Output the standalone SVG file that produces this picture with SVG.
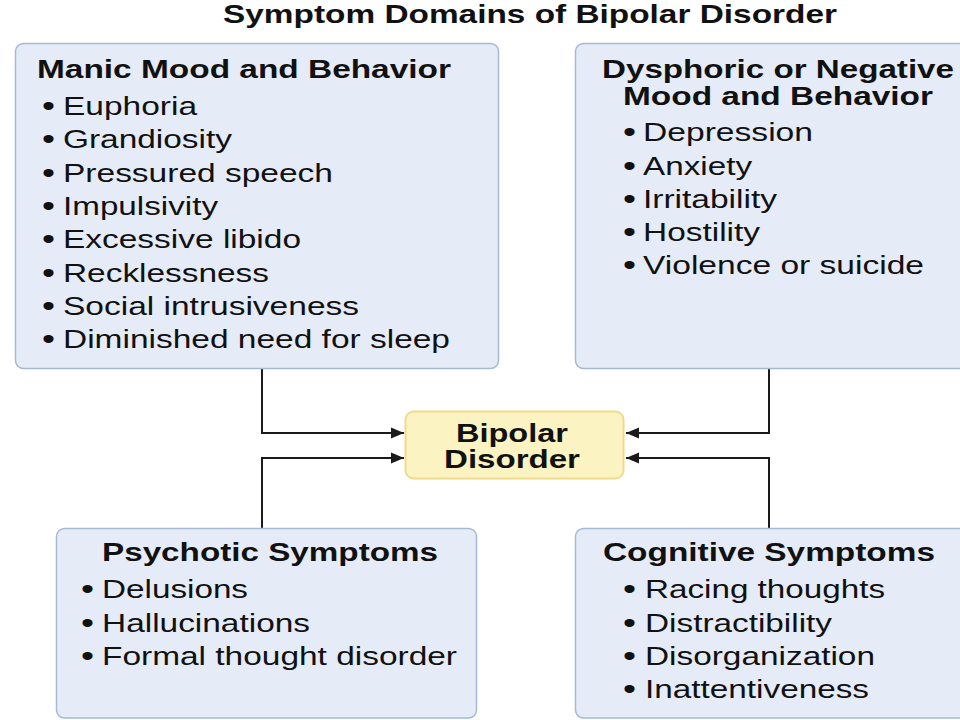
<svg xmlns="http://www.w3.org/2000/svg" width="960" height="720" viewBox="0 0 960 720">
<style>
  .box { fill: #e6ecf7; stroke: #a6b9d2; stroke-width: 1.5; }
  .core { fill: #fcf3c2; stroke: #eedc8c; stroke-width: 2; }
  .h { font-family: "Liberation Sans", Arial, sans-serif; font-size: 25px; font-weight: bold; fill: #111; }
  .t { font-family: "Liberation Sans", Arial, sans-serif; font-size: 25px; fill: #111; }
  .b { font-family: "Liberation Sans", Arial, sans-serif; font-size: 29px; fill: #111; }
  .conn { fill: none; stroke: #1a1a1a; stroke-width: 2; }
</style>
<defs>
  <marker id="arr" markerUnits="userSpaceOnUse" markerWidth="14" markerHeight="12" refX="13" refY="6" orient="auto">
    <path d="M0,0.5 L13,6 L0,11.5 z" fill="#1a1a1a"/>
  </marker>
</defs>
<rect width="960" height="720" fill="#ffffff"/>
<text id="title" class="h" x="223" y="23" textLength="614" lengthAdjust="spacingAndGlyphs">Symptom Domains of Bipolar Disorder</text>

<g id="connectors">
  <path class="conn" d="M262,368 V433 H404" marker-end="url(#arr)"/>
  <path class="conn" d="M262,528 V458 H404" marker-end="url(#arr)"/>
  <path class="conn" d="M769,368 V433 H626" marker-end="url(#arr)"/>
  <path class="conn" d="M769,528 V458 H626" marker-end="url(#arr)"/>
</g>

<g id="manic">
  <rect class="box" x="15.5" y="43.5" width="483" height="325" rx="8"/>
  <text class="h" x="37" y="78" textLength="414" lengthAdjust="spacingAndGlyphs">Manic Mood and Behavior</text>
  <text class="b" x="42" y="116" textLength="13" lengthAdjust="spacingAndGlyphs">•</text>
  <text class="t" x="63" y="115" textLength="134" lengthAdjust="spacingAndGlyphs">Euphoria</text>
  <text class="b" x="42" y="149" textLength="13" lengthAdjust="spacingAndGlyphs">•</text>
  <text class="t" x="63" y="148" textLength="169" lengthAdjust="spacingAndGlyphs">Grandiosity</text>
  <text class="b" x="42" y="182.5" textLength="13" lengthAdjust="spacingAndGlyphs">•</text>
  <text class="t" x="63" y="181.5" textLength="270" lengthAdjust="spacingAndGlyphs">Pressured speech</text>
  <text class="b" x="42" y="216" textLength="13" lengthAdjust="spacingAndGlyphs">•</text>
  <text class="t" x="63" y="215" textLength="155" lengthAdjust="spacingAndGlyphs">Impulsivity</text>
  <text class="b" x="42" y="249" textLength="13" lengthAdjust="spacingAndGlyphs">•</text>
  <text class="t" x="63" y="248" textLength="238" lengthAdjust="spacingAndGlyphs">Excessive libido</text>
  <text class="b" x="42" y="282.5" textLength="13" lengthAdjust="spacingAndGlyphs">•</text>
  <text class="t" x="63" y="281.5" textLength="206" lengthAdjust="spacingAndGlyphs">Recklessness</text>
  <text class="b" x="42" y="316" textLength="13" lengthAdjust="spacingAndGlyphs">•</text>
  <text class="t" x="63" y="315" textLength="296" lengthAdjust="spacingAndGlyphs">Social intrusiveness</text>
  <text class="b" x="42" y="349" textLength="13" lengthAdjust="spacingAndGlyphs">•</text>
  <text class="t" x="63" y="348" textLength="387" lengthAdjust="spacingAndGlyphs">Diminished need for sleep</text>
</g>

<g id="dysphoric">
  <rect class="box" x="575.5" y="43.5" width="400" height="325" rx="8"/>
  <text class="h" x="602" y="78" textLength="352" lengthAdjust="spacingAndGlyphs">Dysphoric or Negative</text>
  <text class="h" x="623" y="105" textLength="310" lengthAdjust="spacingAndGlyphs">Mood and Behavior</text>
  <text class="b" x="623" y="142" textLength="13" lengthAdjust="spacingAndGlyphs">•</text>
  <text class="t" x="643" y="141" textLength="170" lengthAdjust="spacingAndGlyphs">Depression</text>
  <text class="b" x="623" y="176" textLength="13" lengthAdjust="spacingAndGlyphs">•</text>
  <text class="t" x="643" y="175" textLength="109" lengthAdjust="spacingAndGlyphs">Anxiety</text>
  <text class="b" x="623" y="209" textLength="13" lengthAdjust="spacingAndGlyphs">•</text>
  <text class="t" x="643" y="208" textLength="134" lengthAdjust="spacingAndGlyphs">Irritability</text>
  <text class="b" x="623" y="242" textLength="13" lengthAdjust="spacingAndGlyphs">•</text>
  <text class="t" x="643" y="241" textLength="117" lengthAdjust="spacingAndGlyphs">Hostility</text>
  <text class="b" x="623" y="275" textLength="13" lengthAdjust="spacingAndGlyphs">•</text>
  <text class="t" x="643" y="274" textLength="281" lengthAdjust="spacingAndGlyphs">Violence or suicide</text>
</g>

<g id="bipolar">
  <rect class="core" x="405.5" y="411.5" width="218" height="67" rx="8"/>
  <text class="h" x="456" y="442" textLength="112" lengthAdjust="spacingAndGlyphs">Bipolar</text>
  <text class="h" x="444" y="468" textLength="136" lengthAdjust="spacingAndGlyphs">Disorder</text>
</g>

<g id="psychotic">
  <rect class="box" x="56.5" y="528.5" width="420" height="189.5" rx="8"/>
  <text class="h" x="102" y="561" textLength="336" lengthAdjust="spacingAndGlyphs">Psychotic Symptoms</text>
  <text class="b" x="81" y="599" textLength="13" lengthAdjust="spacingAndGlyphs">•</text>
  <text class="t" x="102" y="598" textLength="146" lengthAdjust="spacingAndGlyphs">Delusions</text>
  <text class="b" x="81" y="633" textLength="13" lengthAdjust="spacingAndGlyphs">•</text>
  <text class="t" x="102" y="632" textLength="208" lengthAdjust="spacingAndGlyphs">Hallucinations</text>
  <text class="b" x="81" y="666" textLength="13" lengthAdjust="spacingAndGlyphs">•</text>
  <text class="t" x="102" y="665" textLength="355" lengthAdjust="spacingAndGlyphs">Formal thought disorder</text>
</g>

<g id="cognitive">
  <rect class="box" x="575.5" y="528.5" width="400" height="189.5" rx="8"/>
  <text class="h" x="603" y="561" textLength="332" lengthAdjust="spacingAndGlyphs">Cognitive Symptoms</text>
  <text class="b" x="623" y="599" textLength="13" lengthAdjust="spacingAndGlyphs">•</text>
  <text class="t" x="645" y="598" textLength="240" lengthAdjust="spacingAndGlyphs">Racing thoughts</text>
  <text class="b" x="623" y="632.5" textLength="13" lengthAdjust="spacingAndGlyphs">•</text>
  <text class="t" x="645" y="631.5" textLength="187" lengthAdjust="spacingAndGlyphs">Distractibility</text>
  <text class="b" x="623" y="666" textLength="13" lengthAdjust="spacingAndGlyphs">•</text>
  <text class="t" x="645" y="665" textLength="230" lengthAdjust="spacingAndGlyphs">Disorganization</text>
  <text class="b" x="623" y="699" textLength="13" lengthAdjust="spacingAndGlyphs">•</text>
  <text class="t" x="645" y="698" textLength="224" lengthAdjust="spacingAndGlyphs">Inattentiveness</text>
</g>
</svg>
